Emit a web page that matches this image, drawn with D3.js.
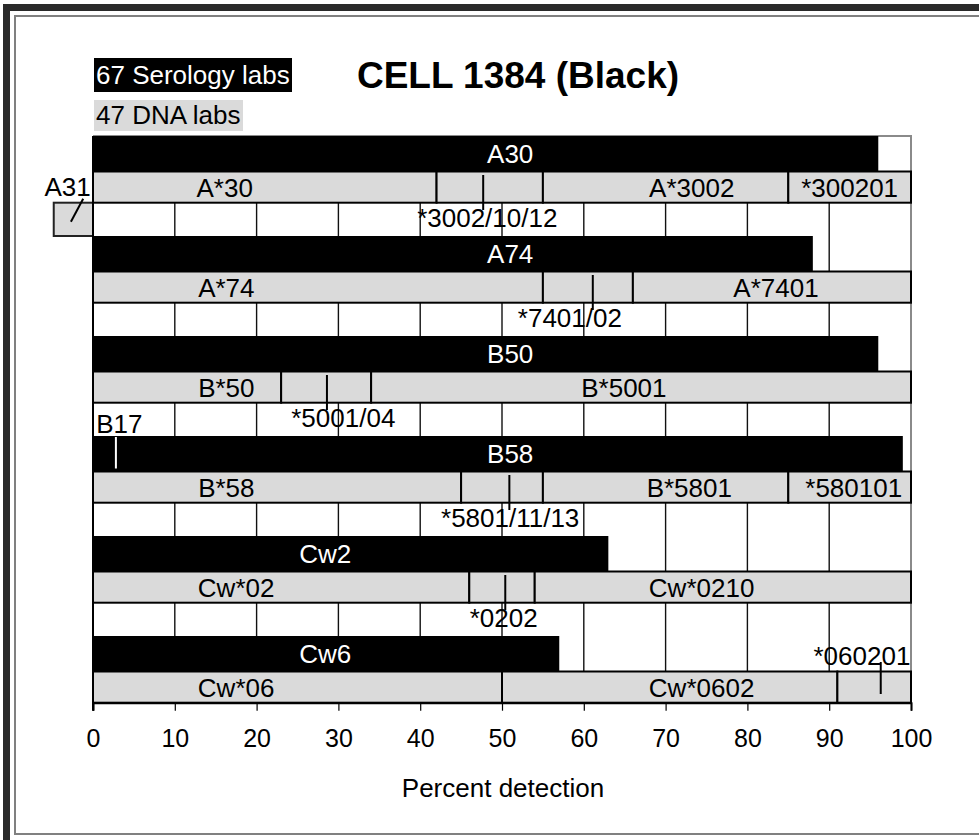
<!DOCTYPE html>
<html>
<head>
<meta charset="utf-8">
<script src="https://cdn.jsdelivr.net/npm/d3@7"></script>
<style>
  html, body { margin: 0; padding: 0; background: #fff; }
  svg text { font-family: "Liberation Sans", Arial, Helvetica, sans-serif; }
</style>
</head>
<body>
<svg id="chart" width="979" height="840"></svg>
<script>
// ---------- DATA ----------
const title = "CELL 1384 (Black)";
const legendSerology = "67 Serology labs";
const legendDNA = "47 DNA labs";
const axisTitle = "Percent detection";
const tickValues = [0, 10, 20, 30, 40, 50, 60, 70, 80, 90, 100];

const groups = ["A30", "A74", "B50", "B58", "Cw2", "Cw6"];
const serologyValues = [96, 88, 96, 99, 63, 57];
const serologyLabelPos = [51, 51, 51, 51, 28.4, 28.4];

// DNA segment cut points (between 0 and 100)
const dnaCuts = [[42, 55, 85], [55, 66], [23, 34], [45, 55, 85], [46, 54], [50, 91]];
const dnaNames = [
  ["A*30", "", "A*3002", "*300201"],
  ["A*74", "", "A*7401"],
  ["B*50", "", "B*5001"],
  ["B*58", "", "B*5801", "*580101"],
  ["Cw*02", "", "Cw*0210"],
  ["Cw*06", "Cw*0602", ""]
];
const dnaNamePos = [
  [16.1, null, 73.2, 92.5],
  [16.3, null, 83.5],
  [16.3, null, 64.9],
  [16.3, null, 72.9, 93.0],
  [17.5, null, 74.4],
  [17.5, 74.4, null]
];

// call-outs for small DNA subtypes
const calloutNames = ["*3002/10/12", "*7401/02", "*5001/04", "*5801/11/13", "*0202", "*060201"];
const calloutMarker = [47.7, 61.1, 28.6, 50.9, 50.4, 96.3];
const calloutLabelPos = [48.2, 58.3, 30.6, 51.0, 50.2, 94.0];
const calloutDirection = ["down", "down", "down", "down", "down", "up"];

// extra serology: A31 (box left of axis), B17 (split inside B58 bar)
const a31Range = [-4.8, 0];
const a31LabelPos = -3.1;
const b17Split = 2.8;
const b17LabelPos = 0.4;

// ---------- LAYOUT ----------
const svg = d3.select("#chart");
const x = d3.scaleLinear().domain([0, 100]).range([93, 911]);
const y = d3.scaleBand().domain(groups).range([136, 736]).paddingInner(0).paddingOuter(0);
const P = y.bandwidth();            // 100
const blackH = P * 0.355;
const grayTop = blackH;
const grayBot = P * 0.667;
const plotTop = 136, plotBottom = y("Cw6") + grayBot;
const GRAY = "#dadada";
const FS = 26;

// frame
svg.append("rect").attr("x", 3).attr("y", 4).attr("width", 976).attr("height", 7).attr("fill", "#2a2a2a");
svg.append("rect").attr("x", 3).attr("y", 4).attr("width", 7).attr("height", 836).attr("fill", "#2a2a2a");
svg.append("path").attr("d", "M979,16 H15 V834 H979").attr("fill", "none").attr("stroke", "#808080").attr("stroke-width", 2);

// legend
svg.append("rect").attr("x", 94).attr("y", 58).attr("width", 198).attr("height", 34).attr("fill", "#000");
svg.append("text").attr("x", 96).attr("y", 84).attr("font-size", FS).attr("fill", "#fff").text(legendSerology);
svg.append("rect").attr("x", 94).attr("y", 100).attr("width", 149).attr("height", 31).attr("fill", GRAY);
svg.append("text").attr("x", 96).attr("y", 124).attr("font-size", FS).attr("fill", "#000").text(legendDNA);

// title
svg.append("text").attr("x", 518).attr("y", 88).attr("text-anchor", "middle")
  .attr("font-size", 37).attr("font-weight", "bold").text(title);

// plot frame (top & right grey)
svg.append("path").attr("d", `M${x(0)},${plotTop} H${x(100)} V${plotBottom}`)
  .attr("fill", "none").attr("stroke", "#8a8a8a").attr("stroke-width", 2);

// gridlines
svg.append("g").selectAll("line").data(tickValues.filter(d => d > 0 && d < 100)).join("line")
  .attr("x1", d => x(d)).attr("x2", d => x(d)).attr("y1", plotTop).attr("y2", plotBottom)
  .attr("stroke", "#111").attr("stroke-width", 1.4);

// serology bars
svg.append("g").selectAll("rect").data(groups).join("rect")
  .attr("x", x(0)).attr("y", d => y(d))
  .attr("width", (d, i) => x(serologyValues[i]) - x(0)).attr("height", blackH)
  .attr("fill", "#000");
svg.append("g").selectAll("text").data(groups).join("text")
  .attr("x", (d, i) => x(serologyLabelPos[i])).attr("y", d => y(d) + 27)
  .attr("text-anchor", "middle").attr("font-size", FS).attr("fill", "#fff").text(d => d);

// DNA segments
groups.forEach((g, gi) => {
  const edges = [0, ...dnaCuts[gi], 100];
  const segs = d3.pairs(edges).map((p, si) => ({ a: p[0], b: p[1], name: dnaNames[gi][si], pos: dnaNamePos[gi][si] }));
  const gg = svg.append("g");
  gg.selectAll("rect").data(segs).join("rect")
    .attr("x", d => x(d.a)).attr("y", y(g) + grayTop)
    .attr("width", d => x(d.b) - x(d.a)).attr("height", grayBot - grayTop)
    .attr("fill", GRAY).attr("stroke", "#000").attr("stroke-width", 2);
  gg.selectAll("text").data(segs.filter(d => d.name)).join("text")
    .attr("x", d => x(d.pos)).attr("y", y(g) + grayTop + 25)
    .attr("text-anchor", "middle").attr("font-size", FS).attr("fill", "#000").text(d => d.name);
});

// call-outs
groups.forEach((g, gi) => {
  const top = y(g);
  let y1, y2, ly;
  if (calloutDirection[gi] === "down") { y1 = top + 39; y2 = top + 74; ly = top + 91; }
  else { y1 = top + 58; y2 = top + 26; ly = top + 29; }
  svg.append("text").attr("x", x(calloutLabelPos[gi])).attr("y", ly)
    .attr("text-anchor", "middle").attr("font-size", FS).attr("fill", "#000").text(calloutNames[gi]);
  svg.append("line").attr("x1", x(calloutMarker[gi])).attr("x2", x(calloutMarker[gi]))
    .attr("y1", y1).attr("y2", y2).attr("stroke", "#000").attr("stroke-width", 2);
});

// A31 box
const a31Top = y("A30") + grayBot;
svg.append("rect").attr("x", x(a31Range[0])).attr("y", a31Top)
  .attr("width", x(a31Range[1]) - x(a31Range[0])).attr("height", P - grayBot)
  .attr("fill", GRAY).attr("stroke", "#222").attr("stroke-width", 2);
svg.append("line").attr("x1", x(-2.7)).attr("y1", a31Top + 19).attr("x2", x(-1.2)).attr("y2", a31Top - 4)
  .attr("stroke", "#000").attr("stroke-width", 2);
svg.append("text").attr("x", x(a31LabelPos)).attr("y", y("A30") + 60)
  .attr("text-anchor", "middle").attr("font-size", FS).text("A31");

// B17 split
svg.append("line").attr("x1", x(b17Split)).attr("x2", x(b17Split))
  .attr("y1", y("B58") + 1).attr("y2", y("B58") + blackH - 3).attr("stroke", "#fff").attr("stroke-width", 2);
svg.append("text").attr("x", x(b17LabelPos)).attr("y", y("B58") - 3)
  .attr("font-size", FS).text("B17");

// left axis line
svg.append("line").attr("x1", x(0)).attr("x2", x(0)).attr("y1", plotTop).attr("y2", plotBottom + 8)
  .attr("stroke", "#000").attr("stroke-width", 2);

// x axis
const axis = svg.append("g").attr("transform", `translate(0,${plotBottom})`)
  .call(d3.axisBottom(x).tickValues(tickValues).tickSize(8).tickPadding(19).tickFormat(d3.format("d")));
axis.select(".domain").attr("stroke", "#000").attr("stroke-width", 2);
axis.selectAll(".tick line").attr("stroke", "#000").attr("stroke-width", 1.2);
axis.selectAll(".tick text").attr("font-size", 25).attr("fill", "#000")
  .attr("font-family", "'Liberation Sans', Arial, sans-serif");

svg.append("text").attr("x", 503).attr("y", 797).attr("text-anchor", "middle")
  .attr("font-size", FS).text(axisTitle);
</script>
</body>
</html>
